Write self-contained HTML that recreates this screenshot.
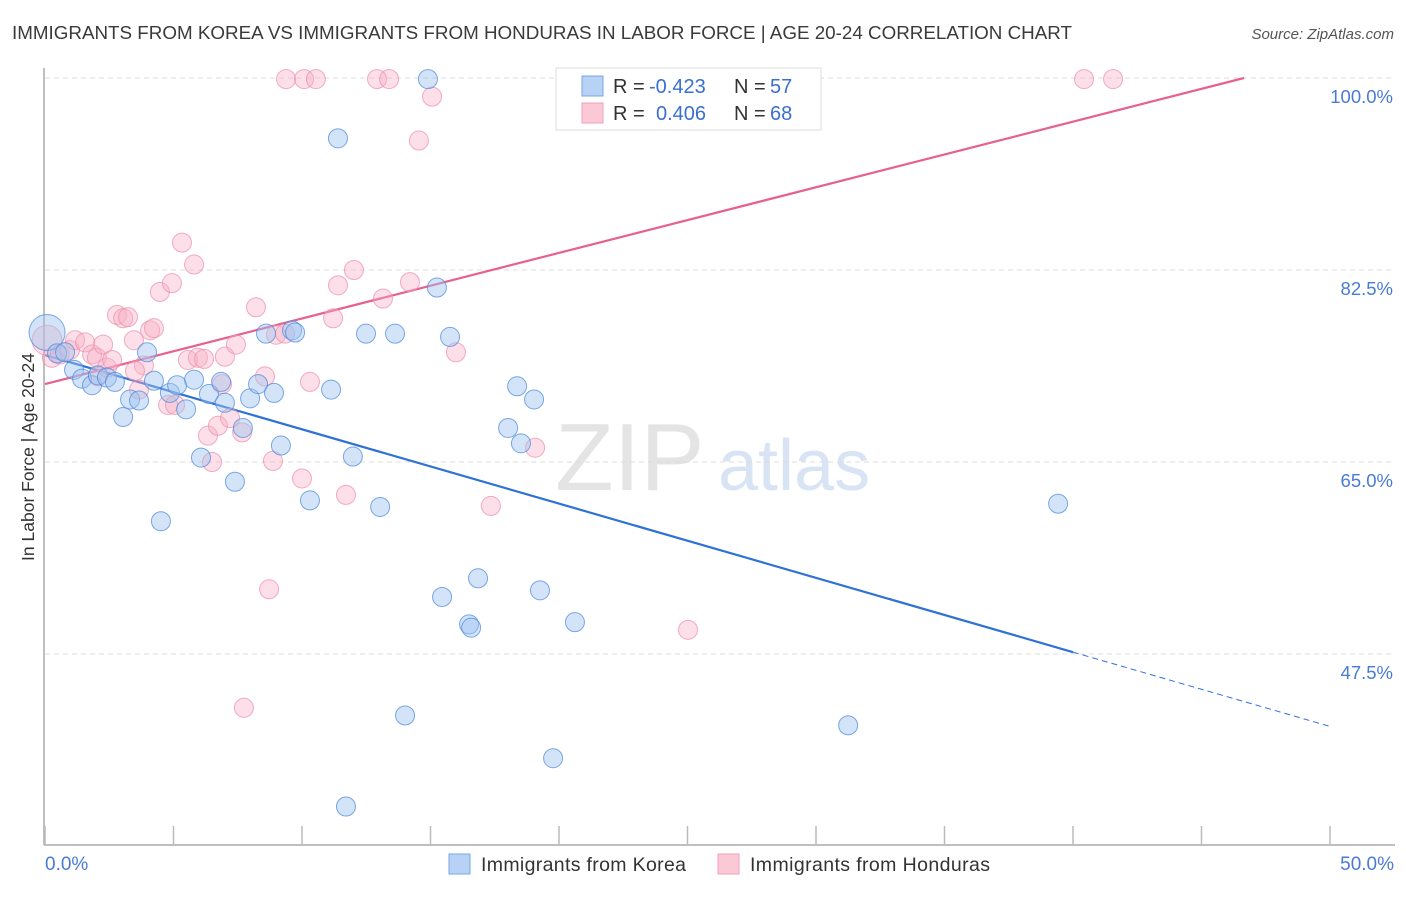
<!DOCTYPE html>
<html><head><meta charset="utf-8"><style>
body{margin:0;background:#fff;font-family:"Liberation Sans",sans-serif;}
svg text{font-family:"Liberation Sans",sans-serif;}
</style></head><body>
<svg id="chart" width="1406" height="892" xmlns="http://www.w3.org/2000/svg">
<text x="12" y="39" font-size="18" fill="#3a3a3a" textLength="1060" lengthAdjust="spacingAndGlyphs">IMMIGRANTS FROM KOREA VS IMMIGRANTS FROM HONDURAS IN LABOR FORCE | AGE 20-24 CORRELATION CHART</text>
<text x="1394" y="39" font-size="15" fill="#555" font-style="italic" text-anchor="end">Source: ZipAtlas.com</text>
<text x="555" y="490" font-size="96" fill="#e4e4e4" font-family="Liberation Serif">ZIP</text>
<text x="718" y="490" font-size="72" fill="#d8e4f4">atlas</text>
<g id="grid"></g>
<g id="axes"></g>
<g id="lines"></g>
<g id="points"></g>
<text transform="translate(34,457) rotate(-90)" font-size="17.5" fill="#333" text-anchor="middle">In Labor Force | Age 20-24</text>
<text x="45" y="870" font-size="19" fill="#4a7bd4">0.0%</text>
<text x="1394" y="870" font-size="19" fill="#4a7bd4" text-anchor="end">50.0%</text>
<g>
<rect x="556" y="68" width="265" height="62" fill="#fff" stroke="#ddd"/>
<rect x="582" y="76" width="21" height="20" fill="#b8d2f6" stroke="#7aa6e6"/>
<text x="613" y="93" font-size="20" fill="#333">R = </text><text x="649" y="93" font-size="20" fill="#3a6fd0">-0.423</text>
<text x="734" y="93" font-size="20" fill="#333">N = </text><text x="770" y="93" font-size="20" fill="#3a6fd0">57</text>
<rect x="582" y="103" width="21" height="20" fill="#fbc8d6" stroke="#f0a0b8"/>
<text x="613" y="120" font-size="20" fill="#333">R = </text><text x="656" y="120" font-size="20" fill="#3a6fd0">0.406</text>
<text x="734" y="120" font-size="20" fill="#333">N = </text><text x="770" y="120" font-size="20" fill="#3a6fd0">68</text>
</g>
<g>
<rect x="449" y="854" width="21" height="20" fill="#b8d2f6" stroke="#7aa6e6"/>
<text x="481" y="871" font-size="19.5" fill="#333" textLength="205">Immigrants from Korea</text>
<rect x="718" y="854" width="21" height="20" fill="#fbc8d6" stroke="#f0a0b8"/>
<text x="750" y="871" font-size="19.5" fill="#333" textLength="240">Immigrants from Honduras</text>
</g>
</svg>
<script>
const yTicks=[100,82.5,65,47.5];
const yTickLabels=["100.0%","82.5%","65.0%","47.5%"];
const xTicks=[0,5,10,15,20,25,30,35,40,45,50];
const koreaX=[0.08,0.47,0.78,1.13,1.44,1.83,2.06,2.41,2.72,3.04,3.31,3.66,3.97,4.24,4.51,4.86,5.14,5.49,5.80,6.07,6.38,6.85,7.00,7.39,7.70,7.98,8.29,8.60,8.91,9.18,9.61,9.73,10.31,11.13,11.40,11.71,11.98,12.49,13.04,13.62,14.01,14.90,15.25,15.45,15.76,16.50,16.58,16.85,18.02,18.37,18.52,19.03,19.26,19.77,20.62,31.25,39.42];
const koreaY=[76.8,74.9,75.0,73.4,72.6,72.0,72.9,72.7,72.3,69.1,70.7,70.6,75.0,72.4,59.6,71.3,72.0,69.8,72.5,65.4,71.2,72.3,70.4,63.2,68.1,70.8,72.1,76.7,71.3,66.5,77.0,76.8,61.5,71.6,94.5,33.6,65.5,76.7,60.9,76.7,41.9,99.9,80.9,52.7,76.4,50.2,49.9,54.4,68.1,71.9,66.7,70.7,53.3,38.0,50.4,41.0,61.2];
const hondX=[0.08,0.27,0.58,0.97,1.17,1.56,1.83,2.02,2.26,2.41,2.61,2.80,3.04,3.23,3.46,3.66,3.85,4.09,4.24,4.47,4.79,4.94,5.06,5.33,5.56,5.80,5.95,6.19,6.34,6.50,6.73,7.00,7.20,7.43,7.67,7.74,8.21,8.56,8.72,8.87,8.99,9.34,9.38,10.00,10.08,10.54,10.31,11.21,11.40,11.71,12.02,12.92,13.15,13.39,14.20,14.55,15.06,15.99,17.35,19.07,23.85,25.02,28.09,40.43,41.56,6.89,3.50,2.06];
const hondY=[76.1,74.5,74.8,75.2,76.1,75.9,74.8,74.5,75.7,73.6,74.3,78.4,78.1,78.2,76.1,71.6,73.8,77.0,77.2,80.5,70.2,81.3,70.2,85.0,74.3,83.0,74.5,74.4,67.4,65.0,68.3,74.6,69.0,75.7,67.7,42.6,79.1,72.8,53.4,65.1,76.6,76.7,99.9,63.5,99.9,99.9,72.3,78.1,81.1,62.0,82.5,99.9,79.9,99.9,81.4,94.3,98.3,75.0,61.0,66.3,99.9,49.7,99.9,99.9,99.9,72.1,73.3,72.8];
const koreaTrend=[74.75,-0.677];
const hondTrend=[72.1,0.598];
const NS="http://www.w3.org/2000/svg";
const X=v=>45+v/50*1285;
const Y=v=>78+(100-v)*192/17.5;
function mk(tag,attrs,parent){const e=document.createElementNS(NS,tag);for(const k in attrs)e.setAttribute(k,attrs[k]);document.getElementById(parent).appendChild(e);return e;}
yTicks.forEach((t,i)=>{
 const g=mk('line',{x1:45,x2:1395,y1:Y(t),y2:Y(t),stroke:'#dcdcdc','stroke-dasharray':'5,4'},'grid');
 
 
 const tx=mk('text',{x:1393,y:Y(t)+25,'font-size':18.5,fill:'#4a7bd4','text-anchor':'end'},'grid');
 tx.textContent=yTickLabels[i];
 
 
});
const ya=mk('line',{x1:44,x2:44,y1:68,y2:845,stroke:'#aaa','stroke-width':1.5},'axes');


const xa=mk('line',{x1:44,x2:1395,y1:845,y2:845,stroke:'#aaa','stroke-width':1.5},'axes');


xTicks.forEach(t=>{
 const l=mk('line',{x1:X(t),x2:X(t),y1:826,y2:845,stroke:'#bbb','stroke-width':1.5},'axes');
 
 
});
const bl=mk('line',{x1:X(0),y1:Y(koreaTrend[0]),x2:X(40),y2:Y(koreaTrend[0]+koreaTrend[1]*40),stroke:'#2f72d6','stroke-width':2.2},'lines');


const bd=mk('line',{x1:X(40),y1:Y(koreaTrend[0]+koreaTrend[1]*40),x2:X(50),y2:Y(koreaTrend[0]+koreaTrend[1]*50),stroke:'#2f72d6','stroke-width':1,'stroke-dasharray':'6,4'},'lines');


const xe=(100-hondTrend[0])/hondTrend[1];
const pl=mk('line',{x1:X(0),y1:Y(hondTrend[0]),x2:X(xe),y2:Y(100),stroke:'#e8608c','stroke-width':2.2},'lines');


hondX.forEach((x,i)=>{
 const c=mk('circle',{cx:X(x),cy:Y(hondY[i]),r:i===0?15:9.5,fill:'rgba(248,175,198,0.4)',stroke:'rgba(236,140,170,0.7)','stroke-width':1},'points');
 
 
});
koreaX.forEach((x,i)=>{
 const c=mk('circle',{cx:X(x),cy:Y(koreaY[i]),r:i===0?18:9.5,fill:'rgba(160,195,240,0.45)',stroke:'rgba(80,140,220,0.75)','stroke-width':1},'points');
 
 
});
</script>
</body></html>
